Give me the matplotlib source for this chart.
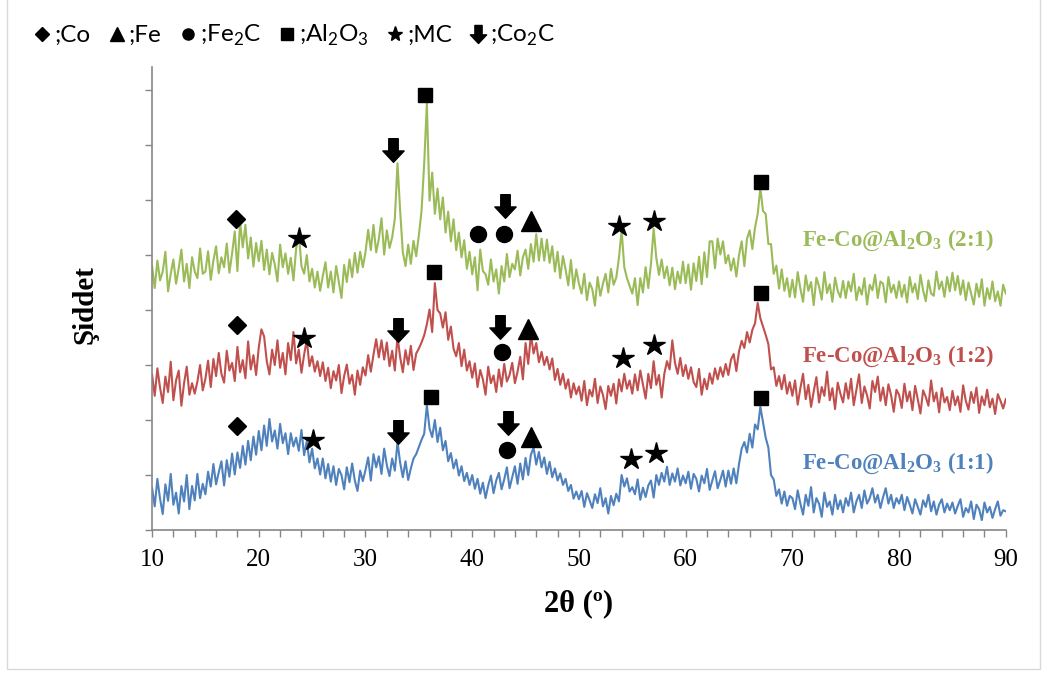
import numpy as np
import matplotlib.pyplot as plt
from matplotlib.lines import Line2D
from matplotlib.path import Path
from matplotlib.patches import Rectangle

plt.rcParams['mathtext.fontset'] = 'custom'
plt.rcParams['mathtext.rm'] = 'Lato'
plt.rcParams['mathtext.bf'] = 'Liberation Serif:bold'

# 2-theta grid of the scans (degrees)
two_theta = np.arange(10.0, 90.001, 0.25)

# Intensities (counts), one row per 5 degrees
i_21 = [
    480, 440, 490, 454, 470, 506, 434, 466, 492, 448, 476, 510, 452, 484, 440, 496, 470, 458, 512, 466,
    470, 507, 455, 490, 516, 467, 496, 478, 521, 468, 503, 543, 471, 560, 514, 555, 494, 532, 479, 522,
    489, 526, 473, 510, 465, 504, 483, 452, 519, 478, 503, 466, 495, 454, 511, 540, 480, 466, 500, 452,
    475, 441, 470, 435, 462, 487, 441, 470, 432, 480, 451, 422, 482, 451, 492, 460, 504, 468, 506, 478,
    505, 546, 509, 555, 505, 529, 567, 501, 545, 513, 532, 566, 667, 580, 505, 480, 519, 484, 526, 498,
    536, 580, 666, 776, 599, 650, 575, 621, 565, 605, 541, 579, 525, 565, 509, 541, 496, 527, 475, 506,
    465, 496, 436, 510, 471, 465, 446, 492, 452, 474, 430, 480, 452, 502, 460, 484, 474, 508, 463, 496,
    510, 475, 520, 488, 538, 490, 530, 490, 528, 486, 516, 470, 506, 458, 498, 474, 445, 491, 439, 474,
    448, 430, 466, 418, 450, 438, 408, 460, 426, 448, 466, 432, 475, 446, 459, 495, 545, 478, 458, 444,
    430, 458, 409, 458, 432, 478, 440, 484, 548, 495, 464, 492, 458, 479, 445, 477, 438, 470, 449, 488,
    449, 483, 437, 485, 453, 497, 447, 505, 460, 525, 525, 476, 530, 501, 525, 485, 500, 472, 494, 461,
    500, 525, 480, 530, 545, 511, 550, 575, 622, 580, 575, 520, 520, 466, 481, 439, 474, 435, 458, 424,
    455, 423, 469, 439, 415, 463, 435, 451, 409, 459, 443, 419, 469, 431, 447, 415, 459, 435, 423, 453,
    422, 452, 434, 466, 418, 442, 428, 458, 410, 446, 436, 464, 422, 452, 448, 414, 460, 432, 446, 422,
    452, 424, 446, 414, 460, 432, 448, 420, 464, 436, 416, 454, 430, 426, 470, 438, 452, 424, 460, 434,
    468, 436, 462, 428, 454, 418, 450, 430, 410, 448, 424, 456, 408, 440, 420, 452, 416, 434, 408, 446,
    430]

i_12 = [
    283, 244, 294, 259, 231, 279, 251, 306, 236, 272, 290, 226, 267, 297, 246, 267, 248, 270, 300, 254,
    275, 308, 260, 311, 280, 322, 284, 268, 326, 290, 304, 271, 333, 287, 309, 276, 343, 292, 318, 282,
    332, 365, 352, 307, 283, 328, 300, 345, 295, 322, 283, 340, 309, 360, 303, 328, 286, 319, 346, 298,
    316, 288, 307, 280, 305, 271, 295, 258, 289, 272, 300, 249, 280, 301, 266, 282, 246, 290, 264, 296,
    281, 318, 288, 319, 347, 314, 345, 310, 341, 298, 326, 290, 352, 314, 287, 327, 301, 335, 291, 321,
    330, 341, 354, 374, 401, 360, 449, 400, 394, 368, 396, 346, 370, 330, 316, 340, 298, 328, 290, 307,
    277, 303, 260, 291, 274, 246, 297, 267, 281, 251, 292, 261, 302, 270, 282, 304, 267, 288, 315, 274,
    340, 302, 356, 321, 340, 305, 324, 300, 315, 292, 312, 273, 293, 264, 284, 257, 274, 241, 267, 247,
    261, 235, 271, 227, 255, 243, 275, 231, 261, 246, 220, 262, 244, 266, 230, 274, 252, 284, 257, 272,
    248, 283, 254, 290, 265, 239, 284, 258, 307, 264, 282, 241, 284, 307, 292, 345, 304, 284, 313, 280,
    300, 275, 296, 269, 260, 293, 246, 275, 256, 285, 266, 294, 274, 296, 279, 302, 282, 310, 320, 289,
    325, 344, 331, 360, 341, 364, 376, 413, 385, 370, 355, 338, 292, 296, 262, 280, 256, 282, 248, 269,
    244, 272, 228, 258, 284, 238, 264, 224, 252, 278, 232, 260, 244, 288, 236, 258, 220, 268, 248, 232,
    267, 239, 275, 227, 255, 283, 231, 261, 245, 221, 271, 251, 279, 235, 259, 227, 265, 245, 215, 255,
    246, 222, 266, 234, 252, 218, 262, 238, 212, 254, 242, 226, 272, 234, 250, 214, 258, 232, 242, 218,
    253, 227, 243, 215, 263, 235, 219, 251, 231, 259, 213, 243, 227, 255, 223, 239, 211, 247, 235, 221,
    238]

i_11 = [
    77, 43, 93, 57, 29, 83, 53, 102, 46, 68, 30, 80, 52, 100, 38, 80, 54, 102, 58, 84,
    65, 106, 79, 120, 83, 105, 125, 81, 127, 97, 139, 101, 141, 113, 153, 119, 162, 127, 170, 137,
    180, 145, 190, 153, 202, 161, 181, 148, 193, 158, 176, 138, 176, 152, 168, 144, 182, 136, 162, 123,
    148, 112, 130, 101, 130, 94, 120, 88, 116, 82, 111, 100, 74, 114, 87, 121, 90, 71, 108, 89,
    109, 132, 90, 138, 114, 134, 102, 148, 118, 98, 130, 108, 160, 122, 96, 125, 91, 112, 130, 138,
    151, 164, 175, 227, 185, 169, 200, 160, 186, 145, 162, 125, 140, 112, 128, 99, 116, 89, 104, 82,
    100, 75, 93, 66, 86, 58, 81, 99, 67, 90, 104, 74, 92, 114, 76, 96, 116, 84, 121, 92,
    131, 100, 137, 150, 119, 142, 114, 132, 102, 124, 96, 112, 90, 103, 82, 93, 71, 82, 57, 70,
    56, 71, 42, 67, 54, 40, 65, 49, 76, 43, 58, 30, 62, 45, 66, 52, 100, 79, 94, 70,
    78, 65, 92, 55, 77, 60, 81, 90, 59, 100, 82, 104, 88, 115, 82, 103, 88, 112, 81, 99,
    85, 106, 75, 102, 93, 70, 99, 85, 111, 73, 90, 107, 76, 91, 108, 79, 108, 84, 112, 85,
    120, 148, 160, 141, 175, 150, 192, 183, 224, 196, 168, 150, 100, 92, 62, 74, 48, 70, 44, 62,
    58, 38, 72, 48, 28, 64, 44, 78, 32, 58, 48, 24, 68, 42, 52, 28, 64, 38, 54, 32,
    58, 44, 68, 32, 52, 64, 40, 72, 48, 58, 76, 50, 64, 40, 60, 76, 48, 64, 40, 58,
    48, 64, 36, 60, 46, 30, 56, 42, 28, 54, 42, 64, 34, 52, 28, 46, 56, 32, 48, 36,
    50, 30, 44, 56, 24, 40, 32, 52, 20, 46, 38, 18, 50, 32, 42, 22, 38, 52, 26, 36,
    34]

# Phase markers (2-theta, intensity) placed over the reflections
co_x = [17.9, 18.0, 18.0]
co_y = [565, 373, 189]
fe_x = [45.5, 45.2, 45.5]
fe_y = [562, 366, 169]
fe2c_x = [40.5, 43.0, 42.8, 43.3]
fe2c_y = [538, 538, 324, 146]
al2o3_x = [35.6, 67.1, 36.4, 67.1, 36.1, 67.1]
al2o3_y = [792, 633, 469, 431, 242, 240]
mc_x = [23.8, 53.8, 57.0, 24.2, 54.1, 57.0, 25.1, 54.9, 57.2]
mc_y = [531, 553, 562, 349, 313, 336, 164, 129, 140]
co2c_x = [32.6, 43.1, 33.0, 42.6, 33.0, 43.4]
co2c_y = [691, 589, 364, 369, 178, 195]

series = [
    (i_21, '#9BBB59', r'Fe-Co@Al$_\mathbf{2}$O$_\mathbf{3}$ (2:1)', 527),
    (i_12, '#C0504D', r'Fe-Co@Al$_\mathbf{2}$O$_\mathbf{3}$ (1:2)', 316),
    (i_11, '#4F81BD', r'Fe-Co@Al$_\mathbf{2}$O$_\mathbf{3}$ (1:1)', 122),
]

# thick downward arrow used for Co2C
arrow = Path([(-0.2, 0.5), (0.2, 0.5), (0.2, -0.02), (0.45, -0.02), (0.0, -0.5),
              (-0.45, -0.02), (-0.2, -0.02), (-0.2, 0.5)],
             [Path.MOVETO] + [Path.LINETO] * 6 + [Path.CLOSEPOLY])

fig = plt.figure(figsize=(10.45, 6.75), dpi=100)
ax = fig.add_axes([0.1455, 0.2148, 0.817, 0.6859])

for vals, color, label, ly in series:
    ax.plot(two_theta, vals, color=color, lw=1.5)
    ax.text(70.9, ly, label, color=color, fontsize=16.5, fontweight='bold',
            family='Liberation Serif', va='center', ha='left')

mk = dict(color='black', ls='none', zorder=5)
ax.plot(co_x, co_y, marker='D', ms=9, **mk)
ax.plot(fe_x, fe_y, marker='^', ms=15, **mk)
ax.plot(fe2c_x, fe2c_y, marker='o', ms=11.5, **mk)
ax.plot(al2o3_x, al2o3_y, marker='s', ms=10, **mk)
ax.plot(mc_x, mc_y, marker='*', ms=16, **mk)
ax.plot(co2c_x, co2c_y, marker=arrow, ms=17, **mk)

ax.set_xlim(10, 90)
ax.set_ylim(0, 842)
ax.set_xticks(np.arange(10, 91, 10))
ax.set_xticks(np.arange(10, 91, 2), minor=True)
ax.set_yticks(np.arange(0, 801, 100))
ax.set_yticklabels([])
for s in ['top', 'right']:
    ax.spines[s].set_visible(False)
for s in ['left', 'bottom']:
    ax.spines[s].set_color('#868686')
    ax.spines[s].set_linewidth(1.2)
ax.tick_params(axis='both', which='both', direction='out', length=5, width=1,
               color='#868686')
ax.tick_params(axis='x', which='major', pad=9, labelsize=18)
for t in ax.get_xticklabels():
    t.set_family('Liberation Serif')

ax.set_xlabel('2θ (º)', fontsize=22, fontweight='bold', family='Liberation Serif',
              labelpad=13)
ax.set_ylabel('Şiddet', fontsize=21, fontweight='bold', family='Liberation Serif',
              labelpad=30)
ax.yaxis.label.set_y(0.487)

# phase key along the top
handles = [
    Line2D([], [], marker='D', ms=7, **mk),
    Line2D([], [], marker='^', ms=10, **mk),
    Line2D([], [], marker='o', ms=8, **mk),
    Line2D([], [], marker='s', ms=8, **mk),
    Line2D([], [], marker='*', ms=11, **mk),
    Line2D([], [], marker=arrow, ms=13, **mk),
]
labels = [';Co', ';Fe', r';Fe$_\mathrm{2}$C', r';Al$_\mathrm{2}$O$_\mathrm{3}$', ';MC',
          r';Co$_\mathrm{2}$C']
leg = fig.legend(handles, labels, loc='upper left', bbox_to_anchor=(0.022, 0.98),
                 ncol=6, frameon=False, handlelength=0.8, handletextpad=0.1,
                 columnspacing=0.67, borderaxespad=0,
                 prop={'family': 'Lato', 'size': 17.5})

# chart area border
fig.patches.append(Rectangle((7 / 1045, 6 / 675), 1033 / 1045, 1.0, transform=fig.transFigure,
                             fill=False, edgecolor='#D9D9D9', lw=1))

fig.savefig('out.png', dpi=100)
